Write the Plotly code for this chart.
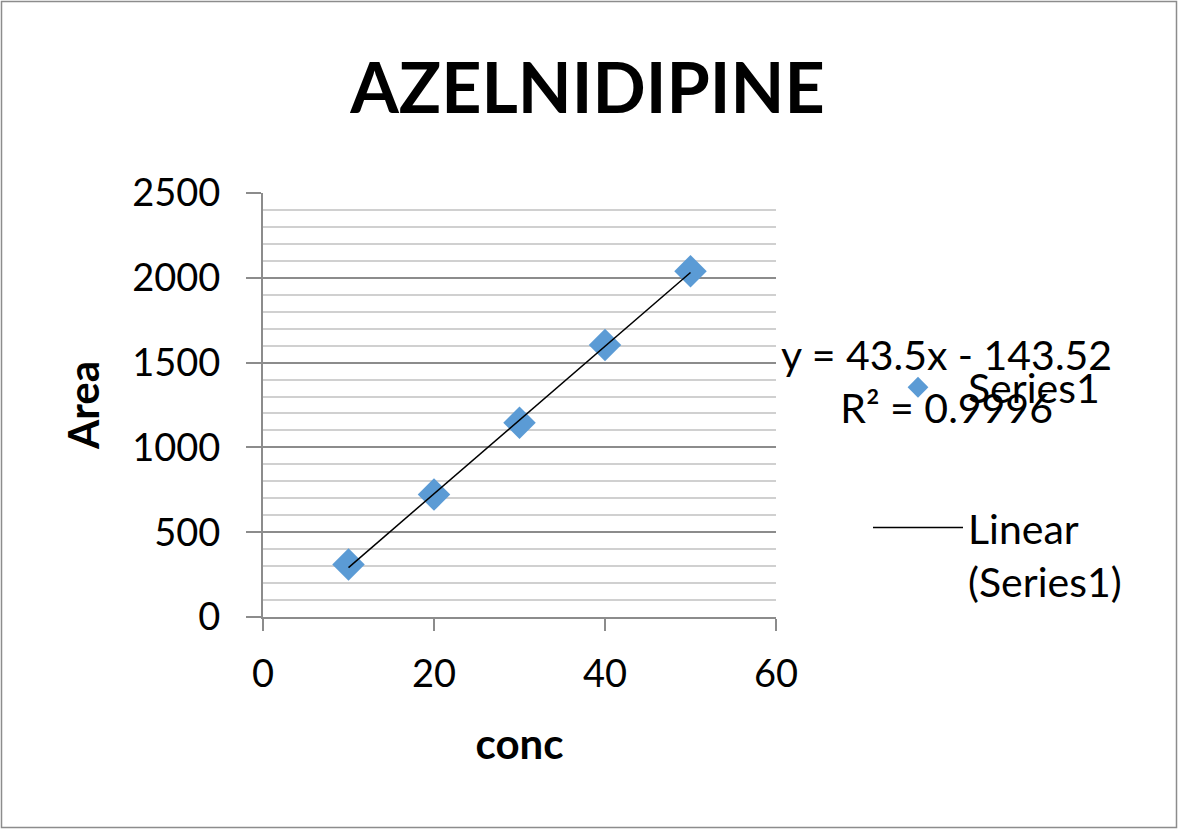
import plotly.graph_objects as go

# ---- data ----
conc = [10, 20, 30, 40, 50]
area = [310, 722, 1146, 1604, 2038]
slope = 43.5
intercept = -143.52
r_squared = 0.9996
x_ticks = [0, 20, 40, 60]
y_ticks = [0, 500, 1000, 1500, 2000, 2500]

W, H = 1178, 829
L, R, T, B = 263, 402, 193, 212
PW, PH = W - L - R, H - T - B

FONT = "Lato"
fs = 38
fs_side = 41

trend_x = [conc[0], conc[-1]]
trend_y = [slope * v + intercept for v in trend_x]

fig = go.Figure()
fig.add_trace(go.Scatter(
    x=conc, y=area, mode="markers", name="Series1", legendgroup="a",
    marker=dict(symbol="diamond", size=25, color="#5B9BD5", line=dict(width=0)),
))
fig.add_trace(go.Scatter(
    x=trend_x, y=trend_y, mode="lines", name="Linear<br>(Series1)", legendgroup="b",
    line=dict(color="black", width=1.5),
))

fig.update_layout(
    width=W, height=H,
    margin=dict(l=L, r=R, t=T, b=B, autoexpand=False),
    paper_bgcolor="white", plot_bgcolor="white",
    font=dict(family=FONT, size=fs, color="black"),
    title=dict(text="<b>AZELNIDIPINE</b>", x=587.5 / W, xref="container", xanchor="center",
               y=1 - 88 / H, yanchor="middle", font=dict(family=FONT, size=70, color="black")),
    showlegend=True,
    legend=dict(x=(868 - L) / PW, xanchor="left", y=(T - 388) / PH + 1 + 0.08, yanchor="top",
                font=dict(family=FONT, size=fs_side), tracegroupgap=84, traceorder="grouped",
                itemwidth=90, valign="top", bgcolor="rgba(0,0,0,0)"),
)

fig.update_xaxes(
    range=[0, 60], tickvals=x_ticks, ticktext=[str(v) for v in x_ticks],
    showline=True, linecolor="#8c8c8c", linewidth=2,
    ticks="outside", ticklen=12, tickwidth=2, tickcolor="#8c8c8c",
    showgrid=False, zeroline=False, ticklabelstandoff=10,
    title=dict(text="<b>conc</b>", font=dict(family=FONT, size=42), standoff=36),
)
fig.update_yaxes(
    range=[0, 2500], tickvals=y_ticks, ticktext=[str(v) for v in y_ticks],
    showline=True, linecolor="#8c8c8c", linewidth=2,
    ticks="outside", ticklen=15, tickwidth=2, tickcolor="#8c8c8c",
    showgrid=True, gridcolor="#8c8c8c", gridwidth=2, zeroline=False,
    ticklabelstandoff=18,
    minor=dict(dtick=100, showgrid=True, gridcolor="#d0d0d0", gridwidth=2, ticks=""),
    title=dict(text="<b>Area</b>", font=dict(family=FONT, size=42), standoff=20),
)

# trendline equation label
fig.add_annotation(
    xref="paper", yref="paper",
    x=(946 - L) / PW, y=1 - (381 - T) / PH,
    text=f"y = {slope}x - {abs(intercept)}<br>R² = {r_squared}",
    showarrow=False, align="center", xanchor="center", yanchor="middle",
    font=dict(family=FONT, size=fs_side, color="black"),
)

# outer chart border
fig.add_shape(type="rect", xref="paper", yref="paper",
              x0=(-L + 1.5) / PW, x1=1 + (R - 1.5) / PW,
              y0=-(B - 1.5) / PH, y1=1 + (T - 1.5) / PH,
              line=dict(color="#8c8c8c", width=1.5), layer="below")

fig.write_html("out.html", config={"displayModeBar": False},
               post_script="document.body.style.margin='0';document.body.style.overflow='hidden';")
